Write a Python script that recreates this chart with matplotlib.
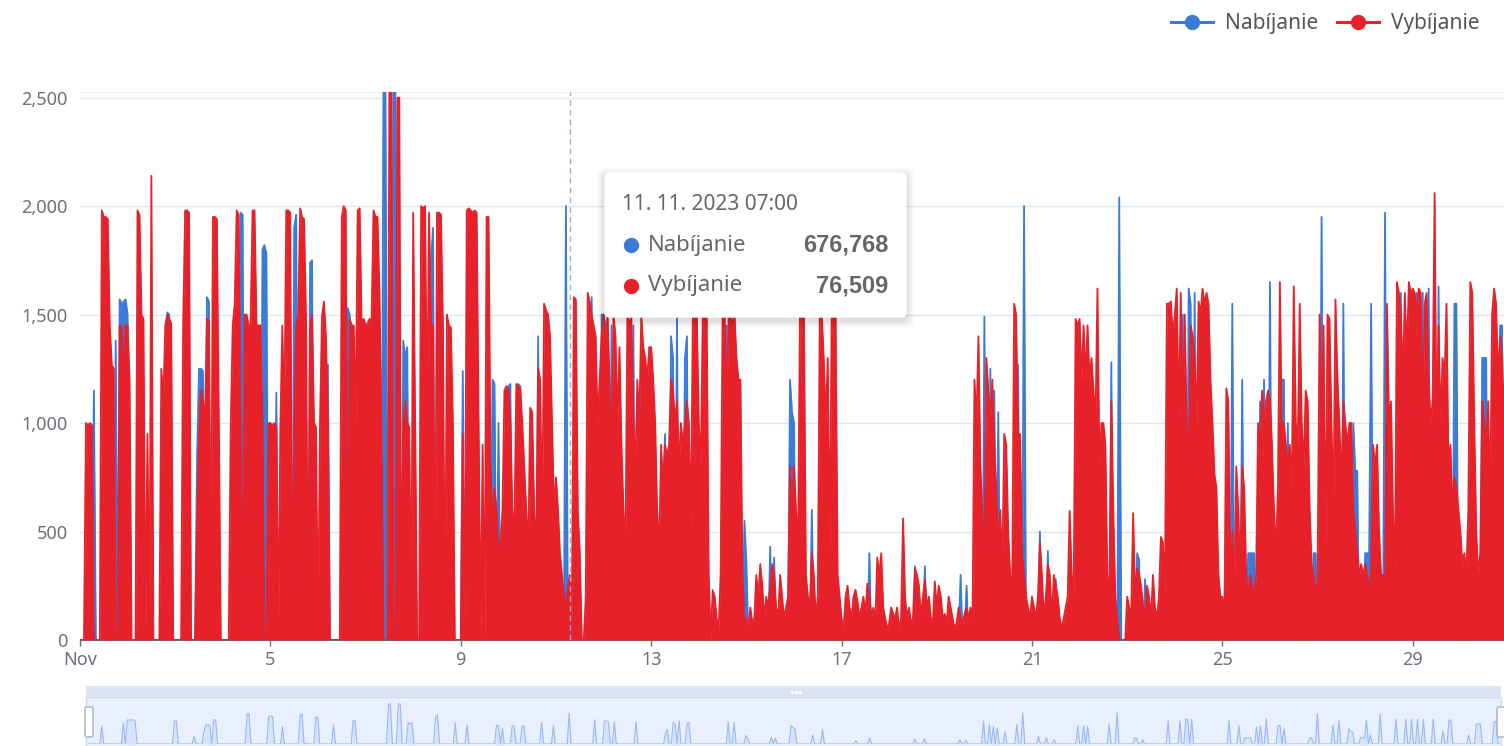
import numpy as np
import pandas as pd
import matplotlib
matplotlib.use('Agg')
from matplotlib import pyplot as plt
from matplotlib.patches import FancyBboxPatch, Rectangle
from matplotlib.lines import Line2D

plt.rcParams['font.family'] = ['Noto Sans', 'DejaVu Sans']

SERIES = ['Nabíjanie', 'Vybíjanie']
COLORS = ['#3a7ad8', '#e62129']
X_TICK_DAYS = [1, 5, 9, 13, 17, 21, 25, 29]
X_TICK_LABELS = ['Nov', '5', '9', '13', '17', '21', '25', '29']
Y_TICKS = [0, 500, 1000, 1500, 2000, 2500]
TOOLTIP_TIME = '11. 11. 2023 07:00'
TOOLTIP_AT = '2023-11-11 07:00'
TOOLTIP_VALUES = ['676,768', '76,509']

# hourly values, one row per day of November 2023
NABIJANIE = [
    [0, 0, 0, 0, 0, 0, 0, 1150, 0, 0, 0, 0, 0, 0, 0, 0, 0, 0, 1380, 0, 1570, 1550, 1560, 1570],
    [1500, 0, 0, 0, 0, 0, 0, 0, 0, 0, 0, 0, 0, 0, 0, 0, 0, 0, 0, 0, 1510, 1500, 0, 0],
    [0, 0, 0, 0, 0, 0, 500, 0, 0, 0, 0, 830, 1250, 1250, 1240, 0, 1580, 1560, 0, 0, 0, 0, 0, 0],
    [0, 0, 0, 0, 0, 0, 0, 0, 0, 1970, 1960, 0, 0, 0, 0, 0, 0, 0, 0, 0, 1800, 1820, 1780, 0],
    [0, 0, 0, 1140, 0, 0, 0, 0, 0, 0, 0, 0, 1900, 1960, 0, 0, 0, 0, 0, 0, 1740, 1750, 0, 0],
    [0, 0, 0, 0, 0, 1270, 0, 0, 0, 0, 0, 0, 0, 0, 0, 1530, 1500, 0, 0, 0, 0, 0, 0, 0],
    [0, 0, 0, 0, 0, 0, 0, 0, 0, 2600, 2600, 0, 0, 0, 2600, 2600, 0, 0, 0, 1380, 1300, 1350, 0, 0],
    [0, 0, 0, 0, 0, 0, 0, 0, 0, 1750, 1900, 0, 0, 0, 0, 0, 0, 0, 0, 1400, 0, 0, 0, 0],
    [0, 1240, 0, 0, 0, 0, 0, 0, 0, 0, 0, 0, 0, 0, 0, 0, 1200, 1180, 0, 1000, 0, 0, 0, 0],
    [1170, 1180, 0, 0, 0, 1180, 1170, 0, 0, 0, 0, 0, 0, 0, 0, 1400, 0, 0, 0, 0, 0, 1200, 0, 0],
    [0, 0, 0, 0, 0, 2000, 0, 0, 0, 0, 0, 0, 0, 0, 0, 0, 0, 0, 1580, 0, 0, 0, 0, 1500],
    [1500, 1450, 0, 0, 1450, 0, 0, 0, 0, 0, 0, 0, 0, 0, 0, 1450, 0, 0, 0, 0, 0, 0, 0, 0],
    [0, 0, 0, 0, 0, 0, 700, 950, 0, 0, 1400, 1300, 0, 1500, 0, 0, 0, 1300, 1400, 0, 0, 0, 0, 0],
    [0, 0, 0, 0, 0, 0, 0, 0, 0, 0, 0, 0, 0, 0, 1450, 0, 0, 1400, 0, 0, 0, 0, 0, 550],
    [360, 0, 0, 0, 0, 0, 0, 0, 0, 0, 0, 0, 430, 0, 380, 0, 0, 0, 0, 0, 0, 0, 1200, 1050],
    [1000, 0, 0, 0, 0, 0, 0, 0, 0, 600, 0, 0, 0, 0, 950, 0, 0, 0, 0, 0, 0, 0, 0, 0],
    [0, 0, 0, 0, 0, 0, 0, 230, 0, 0, 0, 0, 0, 0, 400, 0, 0, 0, 0, 0, 0, 0, 0, 0],
    [0, 0, 0, 0, 0, 0, 0, 0, 0, 0, 0, 0, 0, 340, 0, 0, 0, 0, 340, 0, 0, 0, 0, 0],
    [0, 0, 0, 0, 0, 0, 0, 0, 0, 0, 0, 0, 300, 0, 0, 250, 0, 0, 0, 0, 0, 0, 0, 0],
    [1490, 0, 0, 1250, 0, 1150, 0, 1050, 0, 0, 0, 800, 0, 0, 0, 0, 0, 1270, 0, 0, 2000, 0, 0, 0],
    [0, 0, 0, 0, 500, 0, 0, 0, 410, 0, 0, 0, 280, 0, 0, 0, 0, 0, 0, 0, 0, 0, 0, 0],
    [1200, 0, 0, 1200, 0, 1150, 0, 0, 0, 0, 0, 0, 0, 0, 0, 0, 1280, 0, 0, 0, 2040, 0, 0, 0],
    [0, 0, 0, 0, 0, 400, 370, 0, 0, 280, 0, 0, 0, 0, 0, 0, 0, 0, 0, 0, 0, 0, 1500, 0],
    [0, 0, 0, 0, 1500, 0, 0, 1620, 1550, 0, 1600, 0, 0, 0, 0, 0, 0, 0, 0, 0, 0, 0, 0, 0],
    [0, 0, 0, 0, 0, 1550, 0, 0, 0, 0, 1200, 0, 0, 400, 400, 400, 400, 0, 0, 1100, 0, 1200, 0, 0],
    [1650, 0, 0, 0, 0, 0, 1200, 1200, 0, 1000, 0, 0, 0, 0, 0, 0, 0, 0, 0, 0, 0, 0, 400, 400],
    [0, 0, 1950, 0, 0, 0, 0, 0, 0, 0, 1230, 0, 0, 1550, 0, 0, 0, 0, 1000, 780, 780, 0, 0, 0],
    [400, 400, 400, 1550, 0, 600, 0, 0, 0, 0, 1970, 0, 0, 0, 0, 0, 0, 0, 1600, 0, 0, 0, 0, 1600],
    [0, 0, 1600, 0, 0, 1600, 0, 0, 1620, 0, 0, 0, 0, 1630, 0, 0, 0, 0, 850, 0, 0, 1550, 1550, 0],
    [0, 0, 0, 0, 0, 0, 0, 600, 0, 0, 0, 1300, 1300, 1300, 0, 0, 0, 0, 0, 0, 1450, 1450, 0, 0],
]

VYBIJANIE = [
    [0, 0, 0, 1000, 990, 1000, 990, 0, 0, 0, 0, 1980, 1950, 1950, 1940, 1450, 1270, 1250, 0, 0, 1450, 1440, 1200, 1450],
    [1450, 1200, 0, 0, 0, 1980, 1960, 1500, 1480, 0, 950, 0, 2140, 0, 0, 0, 0, 1250, 1100, 1450, 1500, 1480, 1460, 0],
    [0, 0, 0, 0, 1450, 1980, 1980, 1970, 0, 0, 0, 550, 950, 1150, 1100, 1000, 1480, 1470, 0, 1950, 1950, 1940, 1000, 0],
    [0, 0, 0, 0, 980, 1450, 1550, 1980, 1960, 1000, 0, 1500, 1500, 1450, 1450, 1980, 1980, 1450, 1450, 1450, 1000, 0, 0, 1000],
    [1000, 990, 1000, 980, 0, 970, 1450, 1000, 1980, 1980, 1970, 0, 1000, 1450, 1500, 1990, 1950, 1940, 1450, 0, 1450, 1500, 1000, 980],
    [0, 1000, 1490, 1560, 1400, 1000, 0, 0, 0, 0, 0, 0, 1950, 2000, 1980, 0, 1480, 1450, 1450, 1000, 1980, 1990, 1450, 1480],
    [1450, 1460, 1480, 1470, 1980, 1950, 1950, 1600, 1000, 0, 0, 0, 2600, 2600, 0, 0, 2500, 2500, 0, 1000, 1100, 1000, 980, 0],
    [1970, 1000, 0, 0, 2000, 1990, 2000, 1000, 1970, 1450, 1450, 0, 1970, 1970, 1960, 1450, 0, 1500, 1450, 1440, 1000, 0, 0, 0],
    [0, 950, 0, 1980, 1990, 1980, 1970, 1980, 1970, 1000, 0, 900, 0, 1950, 1950, 800, 500, 700, 600, 400, 450, 600, 1150, 1170],
    [1150, 1000, 600, 500, 1180, 1170, 1160, 1000, 800, 600, 400, 1070, 1050, 600, 400, 1250, 1200, 500, 1550, 1520, 1500, 1400, 1000, 600],
    [750, 600, 400, 300, 200, 150, 250, 300, 100, 1580, 1570, 600, 400, 0, 0, 200, 1600, 1560, 1500, 1450, 1400, 1000, 1200, 1400],
    [1500, 1350, 1500, 1200, 800, 1500, 1400, 1000, 1350, 900, 600, 400, 1500, 1450, 1500, 1000, 800, 1200, 1000, 1500, 1350, 1300, 1200, 1350],
    [1350, 1200, 1000, 600, 400, 900, 700, 900, 850, 900, 1200, 1150, 1000, 1100, 800, 1000, 900, 1000, 1100, 1000, 500, 1500, 1550, 1500],
    [1000, 800, 1500, 1550, 1500, 300, 0, 230, 200, 100, 50, 300, 1500, 1550, 1000, 1500, 1520, 1450, 1500, 1300, 1200, 1200, 300, 100],
    [100, 50, 150, 80, 100, 300, 200, 350, 250, 100, 200, 150, 250, 350, 300, 150, 100, 300, 200, 100, 150, 200, 800, 600],
    [800, 600, 400, 1500, 1500, 1520, 300, 200, 150, 400, 300, 100, 200, 1500, 1500, 1300, 1000, 1300, 400, 1500, 1500, 1500, 300, 200],
    [100, 50, 200, 250, 150, 100, 200, 230, 180, 100, 150, 200, 120, 260, 200, 100, 150, 80, 380, 300, 400, 150, 100, 50],
    [80, 150, 120, 100, 150, 50, 100, 560, 200, 100, 150, 80, 100, 330, 300, 250, 100, 200, 280, 150, 200, 100, 80, 270],
    [150, 250, 200, 100, 120, 80, 200, 150, 100, 50, 80, 150, 100, 80, 120, 150, 100, 150, 80, 1200, 1000, 1400, 800, 600],
    [300, 1300, 1150, 1000, 1200, 900, 700, 400, 600, 300, 950, 900, 500, 300, 200, 1550, 1500, 900, 950, 400, 300, 200, 150, 100],
    [200, 150, 100, 200, 450, 300, 100, 200, 350, 300, 100, 300, 250, 200, 100, 50, 100, 150, 200, 595, 300, 200, 1480, 1450],
    [1480, 1200, 1450, 1200, 1450, 1200, 1300, 1150, 1000, 1620, 800, 1000, 1000, 900, 300, 200, 1100, 600, 200, 100, 0, 0, 0, 0],
    [200, 150, 100, 585, 200, 330, 300, 250, 150, 100, 250, 200, 100, 300, 150, 100, 200, 475, 450, 200, 1550, 1550, 1560, 1400],
    [1500, 1620, 1000, 1600, 1000, 1500, 1000, 800, 1450, 1400, 1300, 1000, 1560, 1500, 1620, 1550, 1600, 1550, 1200, 1000, 765, 700, 300, 200],
    [200, 100, 1160, 1100, 300, 500, 200, 800, 600, 300, 800, 700, 300, 200, 300, 250, 200, 300, 1000, 900, 1150, 1000, 1100, 1150],
    [1100, 900, 600, 400, 700, 1650, 900, 1000, 900, 800, 900, 700, 1630, 1000, 900, 1550, 1000, 800, 1150, 1100, 600, 350, 300, 200],
    [300, 1500, 1000, 1450, 400, 1500, 1480, 1000, 600, 1570, 1200, 1000, 700, 1100, 1000, 900, 1000, 1000, 600, 500, 400, 300, 350, 300],
    [350, 300, 200, 350, 900, 800, 900, 500, 300, 300, 200, 1550, 1000, 1100, 600, 300, 1650, 1600, 1500, 1200, 1600, 1300, 1650, 1600],
    [1620, 1600, 1500, 1620, 1600, 1000, 1550, 1600, 1200, 1000, 1100, 2060, 900, 1450, 1000, 1300, 1200, 1550, 800, 900, 600, 750, 700, 600],
    [500, 350, 400, 300, 600, 1650, 1600, 1000, 500, 300, 400, 1100, 1000, 900, 1100, 600, 1500, 1620, 1550, 1200, 1400, 1300, 1000, 1500],
]

nab = np.array(NABIJANIE, dtype=float).ravel()
vyb = np.array(VYBIJANIE, dtype=float).ravel()
hours = pd.date_range('2023-11-01', periods=nab.size, freq='h')

W, H = 1504, 746
fig = plt.figure(figsize=(W / 100, H / 100), dpi=100)


def box(x0, y0, x1, y1):
    # pixel box (y from top) -> figure rect
    return [x0 / W, 1 - y1 / H, (x1 - x0) / W, (y1 - y0) / H]


ax = fig.add_axes(box(80, 92, 1506, 640))
# the source is a dense line series, so the space under each line reads as solid colour
for vals, c, z in [(nab, COLORS[0], 3), (vyb, COLORS[1], 4)]:
    ax.fill_between(hours, vals, color=c, lw=0, zorder=z)
    ax.plot(hours, vals, color=c, lw=1.3, zorder=z)
ax.axvline(pd.Timestamp(TOOLTIP_AT), color='#9aaad0', lw=1, ls=(0, (4, 3)), zorder=5)

ax.set_xlim(hours[0], hours[-1])
ax.set_ylim(0, 2526)
ax.set_yticks(Y_TICKS)
ax.set_yticklabels([f'{v:,}' for v in Y_TICKS])
ax.set_xticks([pd.Timestamp(2023, 11, d) for d in X_TICK_DAYS])
ax.set_xticklabels(X_TICK_LABELS)
ax.yaxis.grid(True, color='#e0e6f1', lw=1)
ax.set_axisbelow(True)
for s in ['left', 'right']:
    ax.spines[s].set_visible(False)
ax.spines['top'].set_color('#eef1f7')
ax.spines['bottom'].set_color('#6e7079')
ax.tick_params(axis='y', length=0, pad=9, labelsize=13, labelcolor='#6e7079')
ax.tick_params(axis='x', length=4, width=1, color='#6e7079', pad=4,
               labelsize=13, labelcolor='#6e7079')

# legend
handles = [Line2D([], [], color=c, lw=2.2, marker='o', markersize=10) for c in COLORS]
fig.legend(handles, SERIES, loc='upper right', bbox_to_anchor=(1480 / W, 1 - 13 / H),
           ncol=2, frameon=False, fontsize=15, labelcolor='#555555',
           handlelength=2.0, handletextpad=0.6, columnspacing=0.9,
           borderpad=0, borderaxespad=0)

# data zoom slider
ov = fig.add_axes([0, 0, 1, 1], zorder=10)
ov.set_xlim(0, W)
ov.set_ylim(H, 0)
ov.axis('off')
ov.add_patch(Rectangle((86, 697), 1415, 52, facecolor='#e8effd', edgecolor='#d2dbee', lw=1))
ov.add_patch(Rectangle((86, 686), 1415, 11, facecolor='#dce3f2', edgecolor='none'))
ov.plot([792, 796, 800], [691.5] * 3, 'o', ms=1.6, color='white')

mini = fig.add_axes(box(88, 700, 1500, 744), zorder=11)
mini.fill_between(hours, nab, color='#8fb0f7', alpha=0.2, lw=0)
mini.plot(hours, nab, color='#9db9f2', lw=0.8)
mini.set_xlim(hours[0], hours[-1])
mini.set_ylim(0, nab.max() * 1.1)
mini.axis('off')

for hx in (85, 1497):
    ov.add_patch(FancyBboxPatch((hx, 707), 8, 30, boxstyle='round,pad=0,rounding_size=2',
                                facecolor='white', edgecolor='#a7b1c2', lw=1, zorder=12))

# tooltip
tx0, ty0, tx1, ty1 = 605, 173, 906, 317
for k, a in enumerate([0.025, 0.03, 0.035, 0.04]):
    g = 8 - 2 * k
    ov.add_patch(FancyBboxPatch((tx0 - g, ty0 - g + 3), tx1 - tx0 + 2 * g, ty1 - ty0 + 2 * g,
                                boxstyle='round,pad=0,rounding_size=8',
                                facecolor='black', edgecolor='none', alpha=a, zorder=13))
ov.add_patch(FancyBboxPatch((tx0, ty0), tx1 - tx0, ty1 - ty0,
                            boxstyle='round,pad=0,rounding_size=5',
                            facecolor='white', edgecolor='#ffffff', lw=1, zorder=14))
ov.text(622, 204, TOOLTIP_TIME, fontsize=15, color='#666666', va='center', ha='left', zorder=15)
for i, (name, val, c) in enumerate(zip(SERIES, TOOLTIP_VALUES, COLORS)):
    yy = 245 + 41 * i
    ov.plot(631, yy, 'o', ms=10, color=c, zorder=15)
    ov.text(648, yy, name, fontsize=16, color='#666666', va='center', ha='left', zorder=15)
    ov.text(888, yy, val, fontsize=17, fontweight='bold', color='#666666',
            family=['Liberation Sans', 'DejaVu Sans'], va='center', ha='right', zorder=15)

fig.savefig('out.png', dpi=100)
